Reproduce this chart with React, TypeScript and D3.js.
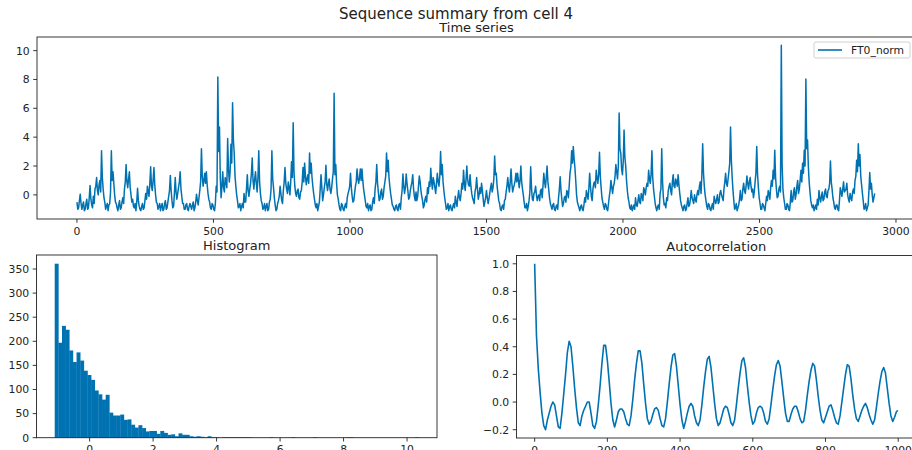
import React from "react";
import * as d3 from "d3";

// Time series: samples 0, 6, 12, ... and the samples halfway between (3, 9, 15, ...)
const seriesName = "FT0_norm";
const seriesLength = 2928;
const seriesStep = 6;
const seriesEven = [
  -0.5, -0.9, 0.05, -1.0, -0.5, -1.0, -0.3, -0.9, 0.65, -0.7,
  -0.1, 0.4, 1.2, 0.0, 1.0, 3.05, 0.4, -0.5, -0.8, -1.1,
  -0.6, 3.05, 1.6, 0.0, -0.6, -1.1, -0.4, -0.9, -0.2, 0.4,
  2.1, 0.5, 1.6, 0.0, -0.3, -0.9, -1.1, 0.45, -0.8, -1.1,
  -0.6, -0.9, 0.1, 0.6, -0.1, 1.95, 0.3, 1.9, 0.0, -0.6,
  -0.8, -1.1, -0.6, -1.0, -0.4, -0.9, -0.1, 1.35, -0.4, -0.8,
  1.2, -0.3, 0.5, 1.6, -0.1, -0.6, -1.0, -0.6, -1.1, -0.6,
  -1.0, -0.5, -0.9, 0.05, -0.7, 0.3, 3.2, 0.6, 1.5, 1.6,
  0.1, -0.5, -1.0, -0.7, -1.1, 0.6, 8.17, 4.7, -0.2, 1.6,
  0.2, 0.9, 3.9, 0.9, 3.5, 6.38, 2.9, 0.6, -0.4, -0.8,
  -1.1, -0.6, 0.1, -0.5, 1.4, -0.1, 0.8, 2.55, 0.4, 1.6,
  0.2, 3.05, 0.1, -0.6, -0.9, -1.1, -0.6, -1.0, -0.3, 3.05,
  0.5, -0.7, -1.0, -0.4, 0.6, -0.4, 0.3, 1.9, 0.4, 0.9,
  0.0, 2.3, 5.0, 0.6, -0.1, 0.4, -0.3, 0.3, 1.9, 2.2,
  0.7, 1.4, 2.9, 2.2, 0.6, -0.3, -0.9, -1.1, -0.5, 1.4,
  -0.4, 0.5, 2.05, 0.3, 1.1, 0.1, 1.1, 7.05, 2.1, 0.0,
  -0.7, -1.1, -0.7, -1.1, -0.6, -0.2, 0.3, 1.5, -0.1, -0.4,
  0.6, 1.8, 0.8, 1.8, 1.8, 0.4, -0.4, -0.9, -1.1, -0.7,
  -1.0, -0.2, 0.4, 2.1, 0.2, -0.3, 0.4, -0.1, 0.9, 2.9,
  2.4, 0.6, -0.3, -0.8, -1.1, -0.7, -1.1, -0.6, -0.2, 1.45,
  0.1, 1.45, 0.3, -0.2, 0.6, 1.4, -0.1, 0.2, -0.1, 1.3,
  0.3, -0.4, -0.7, -0.1, 0.5, 0.9, 1.85, 0.4, 0.9, 0.1,
  1.5, 0.6, 3.0, 2.1, 0.3, -0.6, -0.9, -1.1, -0.7, -1.1,
  -0.6, -0.1, -0.8, 0.3, -0.4, 0.8, 1.7, 0.3, 2.0, 0.7,
  1.4, 0.1, -0.4, 0.2, 1.2, -0.3, 0.5, 0.8, -0.3, -0.5,
  0.3, -0.6, 0.1, 0.8, 0.5, 2.7, 1.5, 0.1, -0.6, -1.1,
  -0.7, -0.4, 0.2, 1.2, 0.2, 1.8, 0.2, 0.7, 1.5, 1.5,
  0.5, 2.0, 0.4, -0.5, -0.9, -1.1, -0.4, 1.95, -0.3, 0.1,
  0.6, -0.4, 0.0, 0.3, -0.2, 1.5, 0.5, 2.0, 0.4, -0.6,
  -1.0, -0.6, -1.1, -0.7, -0.2, 1.25, -0.3, -0.6, -0.1, 0.3,
  -0.2, 1.5, 3.05, 3.35, 1.9, 0.0, -0.7, -1.1, -0.7, -1.1,
  -0.2, 0.3, -0.3, 1.5, -0.1, 0.4, 0.9, 1.7, 0.8, 2.95,
  0.5, -0.5, -1.0, -0.7, -1.1, -0.1, 1.0, 0.1, 0.8, 2.1,
  1.1, 5.67, 2.9, 1.4, 4.5, 2.0, 0.3, -0.5, -1.0, -1.1,
  -0.7, -0.2, -0.8, 0.0, -0.6, -0.1, 0.5, 0.0, 0.8, 1.7,
  0.8, 3.05, 0.4, -0.6, -1.1, -0.7, 0.1, 3.2, -0.2, -0.6,
  -0.2, 0.3, 0.8, 0.0, 1.4, 0.5, 0.9, 1.4, 0.1, -0.7,
  -1.1, -0.7, -1.0, -0.2, -0.7, 0.3, -0.4, 0.0, -0.5, 0.3,
  0.6, 0.1, 3.54, 0.6, -0.4, -1.0, -0.7, -1.1, -0.6, -0.1,
  -0.6, 0.0, -0.5, 0.3, -0.2, 0.4, 1.5, 0.6, 1.6, 4.7,
  1.2, -0.4, -0.9, -1.1, -0.7, 0.3, -0.3, 0.8, 0.1, 1.3,
  0.4, 1.2, 0.2, -0.2, 0.9, 3.36, 0.5, -0.6, -1.0, -0.7,
  -1.1, -0.1, 0.3, -0.3, 1.0, 1.7, 3.1, 0.4, -0.1, 0.6,
  10.37, 0.4, -0.6, -1.0, -0.7, -1.1, 0.3, -0.4, 0.5, 0.0,
  1.0, 0.4, 1.7, 2.2, 3.1, 8.03, 3.8, 0.9, -0.4, -0.9,
  -1.1, -0.7, -0.3, 0.3, -0.5, 0.2, -0.3, 0.4, -0.2, 0.4,
  2.35, 0.4, -0.5, -1.0, -0.7, -1.1, 0.5, -0.1, 0.9, 0.3,
  0.8, -0.3, 0.1, -0.4, 0.4, 1.0, 2.4, 3.54, 2.8, 0.7,
  -0.4, -0.9, -1.1, -0.7, 1.55, 0.8, -0.5, 0.1,
];
const seriesOdd = [
  -1.0, -0.4, -0.6, -0.7, -1.1, -0.6, -1.0, -0.2, -0.3, -0.9,
  -0.6, 0.6, 0.3, 0.7, 0.2, 1.2, -0.2, -1.0, -0.6, -0.7,
  0.2, 1.0, 0.8, -0.5, -0.9, -0.7, -1.0, -0.5, -0.6, 0.9,
  0.9, 1.1, 0.5, -0.5, -0.8, -0.6, -0.5, -0.4, -1.0, -0.8,
  -1.0, -0.4, -0.3, 0.2, 0.8, 0.6, 1.0, 0.7, -0.5, -1.0,
  -0.6, -0.8, -1.1, -0.6, -1.0, -0.5, 0.3, 0.3, -0.9, 0.1,
  0.2, 0.1, 0.9, 0.4, -0.6, -1.0, -0.7, -1.0, -0.8, -0.8,
  -0.7, -1.1, -0.5, -0.4, -0.2, 0.9, 1.3, 1.0, 0.8, 0.7,
  -0.3, -0.9, -0.6, -1.0, -0.6, 0.2, 3.0, 1.2, 0.6, 0.5,
  1.2, 0.5, 1.8, 1.6, 2.2, 3.8, 1.3, 0.0, -0.9, -0.6,
  -0.8, -0.9, -0.5, 0.4, 0.3, 0.4, 1.5, 1.0, 1.1, 0.8,
  1.2, 0.9, -0.4, -1.0, -0.6, -0.8, -1.1, -0.5, 0.4, 1.1,
  -0.2, -1.1, -0.6, -0.1, 0.1, -0.6, 0.9, 0.8, 0.1, 0.5,
  0.9, 1.2, 1.6, 0.1, 0.3, -0.2, 0.2, 0.9, 0.9, 1.3,
  1.1, 0.8, 1.5, 1.2, 0.1, -0.7, -0.6, -0.8, 0.4, 0.5,
  0.0, 0.9, 0.7, 0.8, 0.4, 0.5, 1.6, 1.4, 0.8, -0.3,
  -1.0, -0.6, -1.0, -0.8, -0.9, 0.1, 0.6, 0.5, -0.5, 0.1,
  0.9, 1.1, 1.2, 1.0, 1.0, 0.0, -0.8, -0.6, -0.8, -1.1,
  -0.5, -0.6, 0.9, 0.8, -0.4, 0.2, -0.3, 0.5, 1.3, 1.6,
  1.2, 0.1, -0.7, -1.0, -0.8, -1.0, -0.7, -1.0, 0.3, 0.6,
  0.5, 0.8, -0.3, 0.3, 0.9, 0.4, -0.4, -0.4, 0.6, 0.9,
  -0.1, -0.9, -0.3, -0.5, 0.1, 0.6, 0.9, 1.2, 0.5, 0.8,
  0.9, 1.3, 1.4, 0.9, -0.2, -1.0, -0.6, -0.8, -1.0, -0.8,
  -0.9, -0.5, -0.2, -0.2, 0.1, 0.4, 0.8, 1.0, 1.1, 0.6,
  0.6, -0.2, -0.6, 0.5, 0.4, 0.0, 0.1, 0.3, -0.8, -0.2,
  -0.2, -0.3, 0.5, 0.2, 1.1, 1.4, 0.6, -0.4, -1.0, -0.8,
  -1.0, -0.3, 0.6, 0.6, 0.9, 0.8, 0.5, 1.0, 0.9, 1.0,
  1.0, 0.9, 0.0, -0.9, -0.6, -0.8, 0.2, 0.5, -0.4, 0.2,
  0.0, -0.1, -0.4, 0.4, 0.6, 0.9, 1.2, 0.9, -0.2, -0.8,
  -0.7, -1.0, -0.8, -1.0, 0.4, 0.3, -0.8, -0.2, -0.5, 0.2,
  0.6, 1.9, 2.2, 2.5, 1.0, -0.5, -0.9, -0.8, -1.0, -0.7,
  -0.5, 0.0, 0.4, 0.6, -0.4, 0.8, 0.5, 1.2, 1.4, 1.3,
  -0.2, -0.8, -0.6, -1.0, -0.6, 0.3, 0.5, 0.6, 1.3, 1.6,
  2.0, 3.2, 1.8, 2.3, 2.6, 1.0, -0.2, -0.9, -0.7, -0.9,
  -1.0, -0.7, -0.4, -0.5, 0.1, -0.4, 0.3, 0.5, 0.6, 1.1,
  1.4, 1.2, -0.1, -0.9, -0.8, -1.0, 0.4, 0.9, -0.7, -0.9,
  -0.4, 0.6, 0.3, 0.9, 0.6, 1.1, 0.6, 0.7, -0.4, -0.9,
  -0.8, -1.1, -0.6, -0.8, -0.3, -0.2, -0.6, -0.3, 0.0, 0.0,
  0.9, 1.4, 1.5, 0.0, -0.8, -0.6, -1.0, -0.8, -1.0, -0.4,
  -0.3, -0.6, 0.1, 0.0, -0.4, 0.9, 0.8, 1.1, 2.2, 2.4,
  0.3, -1.0, -0.6, -0.9, -0.3, -0.4, 0.4, 0.3, 0.6, 0.8,
  0.9, 0.6, 0.4, 0.2, 1.5, 1.4, -0.2, -1.0, -0.6, -0.9,
  -0.6, -0.4, 0.1, 0.5, 0.6, 1.1, 1.2, -0.2, 0.4, 0.2,
  2.0, -0.2, -1.0, -0.6, -1.0, -0.5, -0.5, 0.2, -0.3, 0.6,
  0.1, 1.0, 0.9, 1.5, 2.0, 3.2, 2.0, 0.2, -0.7, -0.7,
  -0.9, -1.0, -0.7, -0.2, -0.1, -0.4, 0.2, -0.1, 0.3, 0.8,
  0.9, -0.2, -0.9, -0.7, -1.0, -0.4, 0.2, 0.4, 0.2, 0.4,
  0.0, -0.5, -0.2, 0.2, 0.1, 1.3, 1.6, 2.0, 1.3, 0.1,
  -1.0, -0.6, -0.9, 0.3, 0.4, 0.0, -0.2,
];

// Histogram: 100 bins between the min and max of the series
const histMin = -1.1;
const histMax = 10.37;
const histCounts = [
  361, 197, 232, 224, 181, 157, 177, 160, 139, 130,
  120, 98, 90, 79, 89, 52, 46, 46, 48, 37,
  38, 27, 21, 26, 20, 13, 14, 14, 8, 14,
  10, 6, 7, 3, 9, 6, 6, 3, 2, 3,
  2, 1, 3, 1, 1, 0, 1, 1, 1, 1,
  1, 1, 1, 1, 0, 0, 0, 0, 0, 1,
  0, 0, 0, 0, 0, 1, 0, 0, 0, 0,
  0, 1, 0, 0, 0, 0, 0, 0, 0, 0,
  1, 1, 0, 0, 0, 0, 0, 0, 0, 0,
  0, 0, 0, 0, 0, 0, 0, 0, 0, 1,
];

// Autocorrelation, one value every 5 lags (0..1000)
const acfStep = 5;
const acfValues = [
  1.0, 0.48, 0.24, 0.07, -0.08, -0.17, -0.2, -0.13, -0.08, -0.03,
  0.0, -0.02, -0.1, -0.18, -0.19, -0.08, 0.06, 0.2, 0.36, 0.44,
  0.4, 0.26, 0.1, -0.04, -0.15, -0.17, -0.1, -0.06, -0.03, 0.0,
  0.0, -0.08, -0.17, -0.19, -0.14, -0.02, 0.12, 0.28, 0.41,
  0.41, 0.3, 0.15, -0.01, -0.13, -0.18, -0.13, -0.07, -0.05, -0.05,
  -0.07, -0.12, -0.16, -0.17, -0.1, 0.02, 0.16, 0.28, 0.37,
  0.37, 0.28, 0.13, -0.01, -0.12, -0.16, -0.14, -0.09, -0.05, -0.04,
  -0.06, -0.12, -0.17, -0.18, -0.12, 0.0, 0.13, 0.25, 0.34,
  0.35, 0.26, 0.12, -0.02, -0.13, -0.19, -0.14, -0.08, -0.03, -0.01,
  -0.03, -0.1, -0.15, -0.17, -0.13, -0.02, 0.11, 0.22, 0.31,
  0.33, 0.25, 0.12, -0.01, -0.12, -0.17, -0.15, -0.1, -0.05, -0.03,
  -0.04, -0.09, -0.15, -0.17, -0.13, -0.02, 0.1, 0.21, 0.3,
  0.32, 0.25, 0.12, 0.0, -0.1, -0.16, -0.14, -0.08, -0.04, -0.03,
  -0.04, -0.08, -0.14, -0.16, -0.12, -0.02, 0.09, 0.19, 0.27,
  0.3, 0.26, 0.15, 0.03, -0.08, -0.14, -0.14, -0.09, -0.05, -0.03,
  -0.03, -0.07, -0.12, -0.15, -0.14, -0.06, 0.05, 0.15, 0.23,
  0.28, 0.26, 0.16, 0.04, -0.06, -0.13, -0.15, -0.11, -0.07, -0.03,
  -0.02, -0.06, -0.11, -0.15, -0.16, -0.1, 0.0, 0.1, 0.2,
  0.27, 0.26, 0.17, 0.05, -0.05, -0.12, -0.14, -0.1, -0.06, -0.03,
  -0.01, -0.04, -0.09, -0.13, -0.16, -0.13, -0.04, 0.06, 0.15,
  0.22, 0.25, 0.21, 0.1, -0.01, -0.1, -0.14, -0.11, -0.07, -0.06,
];

const blue = "#0072B2";
const font = "DejaVu Sans, sans-serif";
const tickFont = 10.8;
const titleFont = 13;
const tickLen = 3.8;

// matplotlib style 5% margins
const pad = (lo: number, hi: number) => {
  const r = hi - lo;
  return [lo - 0.05 * r, hi + 0.05 * r];
};

type Box = { left: number; right: number; top: number; bottom: number };

function Axes({ box, x, y, xTicks, yTicks, xFmt, yFmt, title }: any) {
  const b: Box = box;
  return (
    <g fontFamily={font} fill="#222">
      <rect x={b.left} y={b.top} width={b.right - b.left} height={b.bottom - b.top}
        fill="none" stroke="#222" strokeWidth={0.9} />
      {xTicks.map((t: number) => (
        <g key={"x" + t} transform={`translate(${x(t)},${b.bottom})`}>
          <line y2={tickLen} stroke="#222" strokeWidth={0.9} />
          <text y={tickLen + 3.5} dy="0.76em" textAnchor="middle" fontSize={tickFont}>{xFmt(t)}</text>
        </g>
      ))}
      {yTicks.map((t: number) => (
        <g key={"y" + t} transform={`translate(${b.left},${y(t)})`}>
          <line x2={-tickLen} stroke="#222" strokeWidth={0.9} />
          <text x={-tickLen - 3.5} dy="0.36em" textAnchor="end" fontSize={tickFont}>{yFmt(t)}</text>
        </g>
      ))}
      <text x={(b.left + b.right) / 2} y={b.top - 5} textAnchor="middle" fontSize={titleFont}>{title}</text>
    </g>
  );
}

export default function App() {
  // interleave the two read-off arrays into one series
  const series: [number, number][] = [];
  seriesEven.forEach((v, i) => {
    series.push([i * seriesStep, v]);
    if (i < seriesOdd.length) series.push([i * seriesStep + seriesStep / 2, seriesOdd[i]]);
  });

  // top: time series
  const tsBox = { left: 37, right: 916, top: 37, bottom: 219 };
  const tsX = d3.scaleLinear().domain(pad(0, seriesLength - 1)).range([tsBox.left, tsBox.right]);
  const [tsMin, tsMax] = d3.extent(series, d => d[1]) as [number, number];
  const tsY = d3.scaleLinear().domain(pad(tsMin, tsMax)).range([tsBox.bottom, tsBox.top]);
  const tsLine = d3.line<[number, number]>().x(d => tsX(d[0])).y(d => tsY(d[1]));

  // bottom left: histogram
  const hBox = { left: 36.5, right: 437, top: 255, bottom: 437.7 };
  const hX = d3.scaleLinear().domain(pad(histMin, histMax)).range([hBox.left, hBox.right]);
  const hY = d3.scaleLinear().domain([0, (d3.max(histCounts) as number) * 1.05]).range([hBox.bottom, hBox.top]);
  const binW = (histMax - histMin) / histCounts.length;

  // bottom right: autocorrelation
  const aBox = { left: 516.5, right: 916, top: 255.5, bottom: 438 };
  const aX = d3.scaleLinear().domain(pad(0, 999)).range([aBox.left, aBox.right]);
  const [aMin, aMax] = d3.extent(acfValues) as [number, number];
  const aY = d3.scaleLinear().domain(pad(aMin, aMax)).range([aBox.bottom, aBox.top]);
  const aLine = d3.line<number>().x((_, i) => aX(Math.min(i * acfStep, 999))).y(d => aY(d));

  const intFmt = d3.format("d");
  const oneFmt = d3.format(".1f");

  return (
    <svg width={912} height={450} style={{ position: "absolute", left: 0, top: 0, background: "white" }}>
      <text x={456} y={18.5} textAnchor="middle" fontFamily={font} fontSize={15} fill="#222">
        Sequence summary from cell 4
      </text>

      <path d={tsLine(series) || ""} fill="none" stroke={blue} strokeWidth={1.5} strokeLinejoin="round" />
      <Axes box={tsBox} x={tsX} y={tsY} xTicks={d3.range(0, 3001, 500)} yTicks={d3.range(0, 11, 2)}
        xFmt={intFmt} yFmt={intFmt} title="Time series" />
      <g fontFamily={font}>
        <rect x={814} y={42} width={96} height={16} rx={2} fill="white" fillOpacity={0.8} stroke="#cccccc" strokeWidth={0.9} />
        <line x1={818} x2={842} y1={50} y2={50} stroke={blue} strokeWidth={1.6} />
        <text x={851} y={54} fontSize={tickFont} fill="#222">{seriesName}</text>
      </g>

      <g>
        {histCounts.map((c, k) => (
          <rect key={k} x={hX(histMin + k * binW)} y={hY(c)}
            width={hX(histMin + (k + 1) * binW) - hX(histMin + k * binW) + 0.3}
            height={hBox.bottom - hY(c)} fill={blue} />
        ))}
      </g>
      <Axes box={hBox} x={hX} y={hY} xTicks={d3.range(0, 11, 2)} yTicks={d3.range(0, 351, 50)}
        xFmt={intFmt} yFmt={intFmt} title="Histogram" />

      <path d={aLine(acfValues) || ""} fill="none" stroke={blue} strokeWidth={1.6} strokeLinejoin="round" />
      <Axes box={aBox} x={aX} y={aY} xTicks={d3.range(0, 1001, 200)} yTicks={[-0.2, 0, 0.2, 0.4, 0.6, 0.8, 1.0]}
        xFmt={intFmt} yFmt={oneFmt} title="Autocorrelation" />
    </svg>
  );
}
